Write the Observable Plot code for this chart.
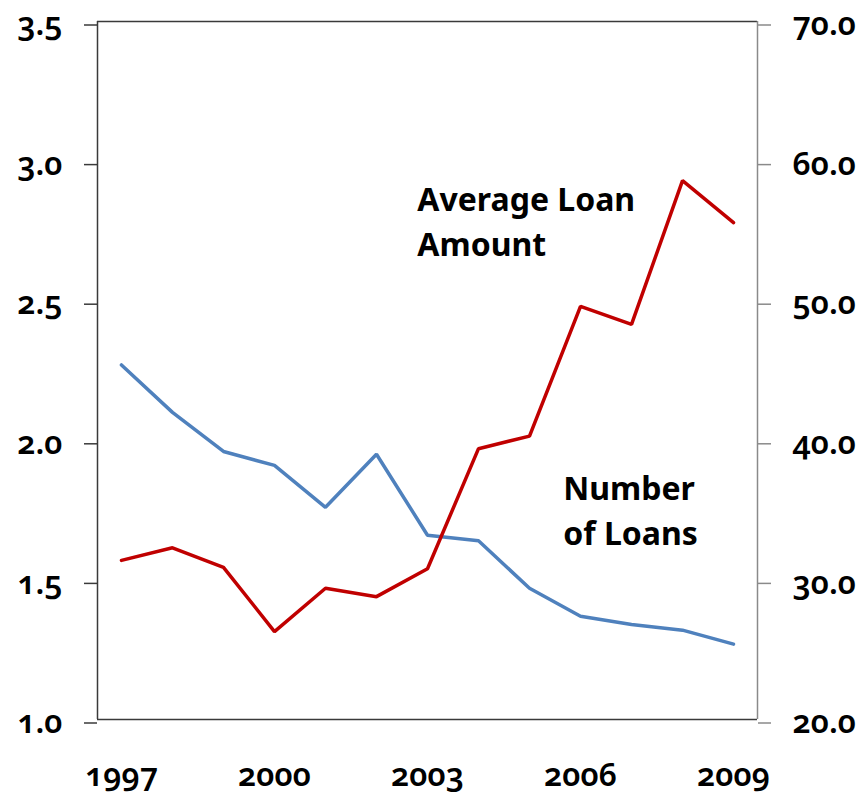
<!DOCTYPE html>
<html>
<head>
<meta charset="utf-8">
<script src="https://cdn.jsdelivr.net/npm/d3@7"></script>
<script src="https://cdn.jsdelivr.net/npm/@observablehq/plot@0.6"></script>
<style>
  html, body { margin: 0; padding: 0; background: #fff; }
  #chart svg { font-family: "Noto Sans", "Open Sans", sans-serif; display: block; }
</style>
</head>
<body>
<div id="chart"></div>
<script>
// Loans per year: count (left axis) and average amount (right axis)
const years = [1997, 1998, 1999, 2000, 2001, 2002, 2003, 2004, 2005, 2006, 2007, 2008, 2009];
const numberOfLoans = [2.27, 2.10, 1.96, 1.91, 1.76, 1.95, 1.66, 1.64, 1.47, 1.37, 1.34, 1.32, 1.27];
const averageLoanAmount = [31.4, 32.3, 30.9, 26.3, 29.4, 28.8, 30.8, 39.4, 40.3, 49.6, 48.3, 58.6, 55.6];

const yearTicks = [1997, 2000, 2003, 2006, 2009];
const leftTicks = [1.0, 1.5, 2.0, 2.5, 3.0, 3.5];
const rightTicks = [20, 30, 40, 50, 60, 70];

// Series captions, placed in data units (year, left-axis value)
const seriesLabels = [
  { text: "Average Loan\nAmount", year: 2002.80, value: 2.935 },
  { text: "Number\nof Loans", year: 2005.66, value: 1.90 }
];

// The right axis shares the left scale: 20..70 maps onto 1.0..3.5
const [l0, l1] = [leftTicks[0], leftTicks[leftTicks.length - 1]];
const [r0, r1] = [rightTicks[0], rightTicks[rightTicks.length - 1]];
const toLeft = v => l0 + (v - r0) * (l1 - l0) / (r1 - r0);
const fromLeft = v => r0 + (v - l0) * (r1 - r0) / (l1 - l0);

const xPad = 0.47;
const xMin = years[0] - xPad;
const xMax = years[years.length - 1] + xPad;

const rows = years.map((year, i) => ({
  year,
  count: numberOfLoans[i],
  amount: toLeft(averageLoanAmount[i])
}));

const dark = "#3a3a3a";
const grey = "#8a8a8a";
const tickFont = { fontSize: 32, fontWeight: 600, fontVariant: "oldstyle-nums", fill: "#000" };

const chart = Plot.plot({
  width: 864,
  height: 796,
  marginTop: 21,
  marginBottom: 77,
  marginLeft: 97,
  marginRight: 107,
  x: { domain: [xMin, xMax], axis: null },
  y: { domain: [l0, l1], axis: null },
  marks: [
    Plot.axisX(yearTicks, {
      anchor: "bottom", tickSize: 0, tickPadding: 44, label: null,
      tickFormat: d => String(d), ...tickFont
    }),
    Plot.axisY(leftTicks, {
      anchor: "left", tickSize: 13, tickPadding: 22, label: null,
      tickFormat: d => d.toFixed(1), stroke: dark, strokeWidth: 1.5, dy: 3.5, ...tickFont
    }),
    Plot.axisY(rightTicks.map(toLeft), {
      anchor: "right", tickSize: 13, tickPadding: 22, label: null,
      tickFormat: d => fromLeft(d).toFixed(1), stroke: grey, strokeWidth: 1.5, dy: 3.5, ...tickFont
    }),
    Plot.ruleY([l0, l1], { stroke: dark, strokeWidth: 1.5 }),
    Plot.ruleX([xMin], { stroke: dark, strokeWidth: 1.5 }),
    Plot.ruleX([xMax], { stroke: grey, strokeWidth: 1.5 }),
    Plot.line(rows, {
      x: "year", y: "count", stroke: "#4f81bd", strokeWidth: 3.5, strokeLinejoin: "miter"
    }),
    Plot.line(rows, {
      x: "year", y: "amount", stroke: "#c00000", strokeWidth: 3.5, strokeLinejoin: "miter"
    }),
    Plot.text(seriesLabels, {
      x: "year", y: "value", text: "text",
      textAnchor: "start", lineAnchor: "top", lineHeight: 1.4,
      fontSize: 32, fontWeight: "bold", fill: "#000"
    })
  ]
});

document.getElementById("chart").appendChild(chart);
</script>
</body>
</html>
